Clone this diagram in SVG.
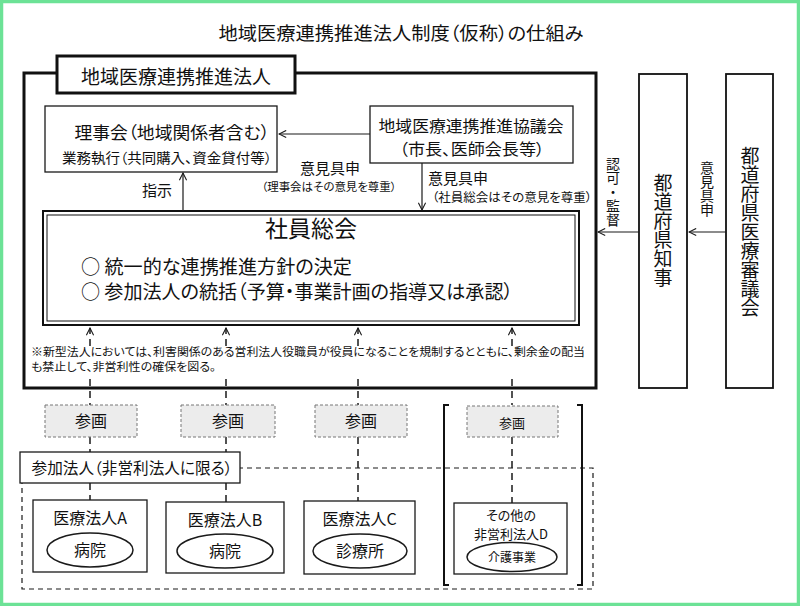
<svg xmlns="http://www.w3.org/2000/svg" width="800" height="606" viewBox="0 0 800 606">
<defs>
<style>
text{font-family:"Noto Sans CJK JP","Noto Sans CJK SC",sans-serif;fill:#111;font-feature-settings:"palt"}
.v{writing-mode:vertical-rl;text-anchor:middle;font-feature-settings:normal}
.box{fill:#fff;stroke:#1a1a1a;stroke-width:1.3}
.thick{fill:none;stroke:#111;stroke-width:3}
.conn{stroke:#1a1a1a;stroke-width:1.2;fill:none}
.dash{stroke:#1a1a1a;stroke-width:1.5;fill:none;stroke-dasharray:7 5}
.sanka{fill:#ececec;stroke:#777;stroke-width:1;stroke-dasharray:3 2}
.ell{fill:#fff;stroke:#1a1a1a;stroke-width:1.5}
.c{text-anchor:middle}
</style>
<marker id="arr" viewBox="0 0 10 10" refX="9" refY="5" markerWidth="9" markerHeight="9" markerUnits="userSpaceOnUse" orient="auto">
<path d="M1,1 L9,5 L1,9" fill="none" stroke="#1a1a1a" stroke-width="1.2" stroke-dasharray="none"/>
</marker>
</defs>
<rect x="0" y="0" width="800" height="606" fill="#fff"/>
<rect x="1.5" y="1.5" width="797" height="603" fill="none" stroke="#6ce296" stroke-width="3.5"/>

<text id="title" class="c" x="401" y="40" font-size="18.5" textLength="365" lengthAdjust="spacingAndGlyphs">地域医療連携推進法人制度（仮称）の仕組み</text>

<g id="corp">
<rect class="thick" x="24" y="73" width="572" height="315" fill="#fff"/>
<rect x="57" y="56" width="238" height="37" fill="#fff" stroke="#111" stroke-width="3"/>
<text class="c" x="176" y="84" font-size="19">地域医療連携推進法人</text>
</g>

<g id="rijikai">
<rect class="box" x="45" y="106" width="232" height="66"/>
<text class="c" x="172" y="139" font-size="17" textLength="195" lengthAdjust="spacingAndGlyphs">理事会（地域関係者含む）</text>
<text class="c" x="167" y="163" font-size="14" textLength="210" lengthAdjust="spacingAndGlyphs">業務執行（共同購入、資金貸付等）</text>
</g>

<g id="kyogikai">
<rect class="box" x="370" y="106" width="203" height="57"/>
<text class="c" x="471" y="132" font-size="16" textLength="185" lengthAdjust="spacingAndGlyphs">地域医療連携推進協議会</text>
<text class="c" x="472" y="155" font-size="16" textLength="145" lengthAdjust="spacingAndGlyphs">（市長、医師会長等）</text>
</g>

<g id="shain">
<rect x="43" y="211" width="536" height="114" fill="#fff" stroke="#111" stroke-width="2"/>
<rect x="47" y="215" width="528" height="106" fill="none" stroke="#111" stroke-width="1"/>
<text class="c" x="311" y="237" font-size="23">社員総会</text>
<text x="81" y="274" font-size="19" textLength="271" lengthAdjust="spacingAndGlyphs">○ 統一的な連携推進方針の決定</text>
<text x="81" y="299" font-size="19" textLength="432" lengthAdjust="spacingAndGlyphs">○ 参加法人の統括（予算・事業計画の指導又は承認）</text>
</g>

<g id="chiji">
<rect x="639" y="74" width="48" height="314" fill="#fff" stroke="#111" stroke-width="1.8"/>
<text class="v" x="663" y="230" font-size="19">都道府県知事</text>
</g>

<g id="shingikai">
<rect x="726" y="74" width="47" height="314" fill="#fff" stroke="#111" stroke-width="1.8"/>
<text class="v" x="750" y="231.5" font-size="19">都道府県医療審議会</text>
</g>

<g id="connectors">
<line class="conn" x1="370" y1="134" x2="279" y2="134" marker-end="url(#arr)"/>
<line class="conn" x1="183" y1="211" x2="183" y2="173" marker-end="url(#arr)"/>
<line class="conn" x1="422" y1="163" x2="422" y2="210" marker-end="url(#arr)"/>
<line class="conn" x1="639" y1="232" x2="598" y2="232" marker-end="url(#arr)"/>
<line class="conn" x1="726" y1="232" x2="689" y2="232" marker-end="url(#arr)"/>
<line class="dash" x1="90" y1="346" x2="90" y2="328" marker-end="url(#arr)"/>
<line class="dash" x1="226" y1="346" x2="226" y2="328" marker-end="url(#arr)"/>
<line class="dash" x1="358" y1="346" x2="358" y2="328" marker-end="url(#arr)"/>
<line class="dash" x1="512" y1="346" x2="512" y2="328" marker-end="url(#arr)"/>
<line class="dash" x1="90" y1="379" x2="90" y2="405"/>
<line class="dash" x1="226" y1="379" x2="226" y2="405"/>
<line class="dash" x1="358" y1="379" x2="358" y2="405"/>
<line class="dash" x1="512" y1="379" x2="512" y2="405"/>
<line class="dash" x1="90" y1="437" x2="90" y2="452"/>
<line class="dash" x1="90" y1="483" x2="90" y2="500"/>
<line class="dash" x1="226" y1="437" x2="226" y2="452"/>
<line class="dash" x1="226" y1="483" x2="226" y2="502"/>
<line class="dash" x1="358" y1="437" x2="358" y2="501"/>
<line class="dash" x1="512" y1="437" x2="512" y2="503"/>
</g>

<g id="labels">
<text class="c" x="330" y="173.5" font-size="15">意見具申</text>
<text class="c" x="329" y="190.5" font-size="11" textLength="135" lengthAdjust="spacingAndGlyphs">（理事会はその意見を尊重）</text>
<text class="c" x="157" y="195.5" font-size="15">指示</text>
<text x="428" y="183.5" font-size="15">意見具申</text>
<text x="432" y="201.5" font-size="12" textLength="160" lengthAdjust="spacingAndGlyphs">（社員総会はその意見を尊重）</text>
<text class="v" x="613" y="192" font-size="14">認可・監督</text>
<text class="v" x="707" y="188.5" font-size="14">意見具申</text>
<text x="31" y="356" font-size="11.3" textLength="554" lengthAdjust="spacingAndGlyphs">※新型法人においては、利害関係のある営利法人役職員が役員になることを規制するとともに、剰余金の配当</text>
<text x="31" y="371" font-size="11.3" textLength="185" lengthAdjust="spacingAndGlyphs">も禁止して、非営利性の確保を図る。</text>
</g>

<g id="sankaku1"><rect class="sanka" x="45" y="405" width="92" height="32"/><text class="c" x="91" y="427" font-size="16">参画</text></g>
<g id="sankaku2"><rect class="sanka" x="181" y="405" width="94" height="32"/><text class="c" x="228" y="427" font-size="16">参画</text></g>
<g id="sankaku3"><rect class="sanka" x="315" y="405" width="92" height="32"/><text class="c" x="361" y="427" font-size="16">参画</text></g>
<g id="sankaku4"><rect class="sanka" x="467" y="406" width="91" height="31"/><text class="c" x="512" y="427.5" font-size="13">参画</text></g>

<g id="group">
<rect x="22" y="468" width="571" height="121" fill="none" stroke="#1a1a1a" stroke-width="1.2" stroke-dasharray="5 4"/>
<path d="M449,405 H444 V585 H449 M577,405 H582 V585 H577" fill="none" stroke="#111" stroke-width="2"/>
</g>

<g id="sanka-hojin">
<rect class="box" x="20" y="452" width="220" height="31"/>
<text class="c" x="132" y="473.5" font-size="15.5" textLength="201" lengthAdjust="spacingAndGlyphs">参加法人（非営利法人に限る）</text>
</g>

<g id="hojinA">
<rect class="box" x="33" y="500" width="114" height="72"/>
<text class="c" x="90" y="524" font-size="16">医療法人A</text>
<ellipse class="ell" cx="90" cy="550" rx="43" ry="17"/>
<text class="c" x="90" y="556" font-size="16">病院</text>
</g>
<g id="hojinB">
<rect class="box" x="166" y="502" width="118" height="71"/>
<text class="c" x="225" y="526" font-size="16">医療法人B</text>
<ellipse class="ell" cx="225" cy="551" rx="48" ry="17"/>
<text class="c" x="225" y="557" font-size="16">病院</text>
</g>
<g id="hojinC">
<rect class="box" x="304" y="501" width="111" height="73"/>
<text class="c" x="359.5" y="525" font-size="16">医療法人C</text>
<ellipse class="ell" cx="360" cy="551" rx="47" ry="17"/>
<text class="c" x="360" y="557" font-size="16">診療所</text>
</g>
<g id="hojinD">
<rect class="box" x="454" y="503" width="113" height="71"/>
<text class="c" x="511" y="519.5" font-size="13">その他の</text>
<text class="c" x="511" y="539" font-size="13">非営利法人D</text>
<ellipse class="ell" cx="512" cy="557" rx="45" ry="14.5"/>
<text class="c" x="512" y="561.5" font-size="12">介護事業</text>
</g>
</svg>
